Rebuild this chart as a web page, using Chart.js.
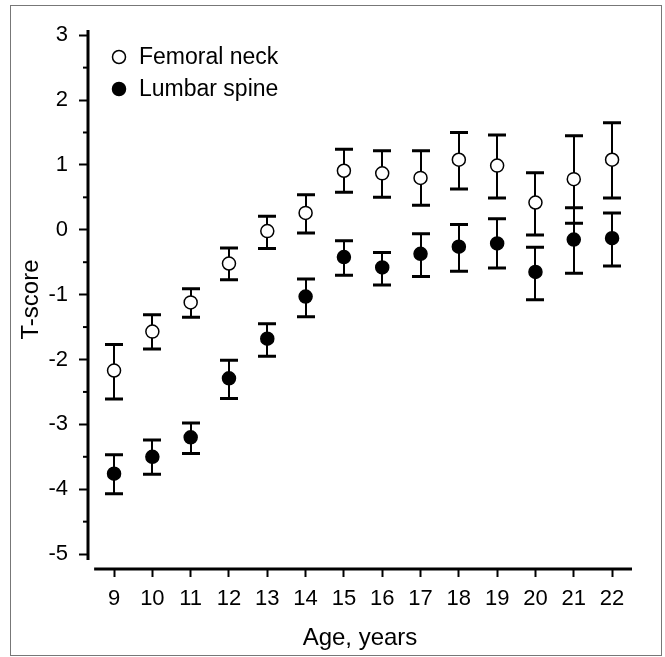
<!DOCTYPE html>
<html>
<head>
<meta charset="utf-8">
<style>
  html, body { margin: 0; padding: 0; background: #fff; }
  #wrap { position: relative; width: 665px; height: 657px; }
  #frame { position: absolute; left: 10px; top: 5px; width: 652px; height: 651px;
           border: 1px solid #777; box-sizing: border-box; pointer-events: none; }
  canvas { position: absolute; left: 0; top: 0; }
</style>
<script src="https://cdn.jsdelivr.net/npm/chart.js@4/dist/chart.umd.min.js"></script>
</head>
<body>
<div id="wrap">
  <canvas id="tscore" width="665" height="657"></canvas>
  <div id="frame"></div>
</div>
<script>
// ages and T-scores (mean, lower and upper ends of the error bar)
const ages = [9, 10, 11, 12, 13, 14, 15, 16, 17, 18, 19, 20, 21, 22];

const femoralNeck     = [-2.17, -1.57, -1.12, -0.52, -0.02, 0.26, 0.91, 0.87, 0.80, 1.08, 0.99, 0.42, 0.78, 1.08];
const femoralNeckLow  = [-2.61, -1.84, -1.35, -0.77, -0.29, -0.05, 0.58, 0.50, 0.38, 0.63, 0.49, -0.08, 0.10, 0.49];
const femoralNeckHigh = [-1.77, -1.31, -0.91, -0.28, 0.21, 0.54, 1.24, 1.22, 1.22, 1.50, 1.46, 0.88, 1.45, 1.65];

const lumbarSpine     = [-3.76, -3.50, -3.20, -2.29, -1.68, -1.03, -0.42, -0.58, -0.37, -0.26, -0.21, -0.65, -0.15, -0.13];
const lumbarSpineLow  = [-4.07, -3.77, -3.45, -2.60, -1.95, -1.34, -0.70, -0.85, -0.72, -0.64, -0.59, -1.08, -0.67, -0.56];
const lumbarSpineHigh = [-3.47, -3.24, -2.98, -2.01, -1.45, -0.76, -0.17, -0.35, -0.06, 0.08, 0.17, -0.27, 0.34, 0.26];

const yTicks = [-5, -4, -3, -2, -1, 0, 1, 2, 3];
const yMinorTicks = [-4.5, -3.5, -2.5, -1.5, -0.5, 0.5, 1.5, 2.5];

const seriesNames = ['Femoral neck', 'Lumbar spine'];

const FONT = 'Liberation Sans, Arial, Helvetica, sans-serif';

function points(values) {
  return ages.map((a, i) => ({ x: a, y: values[i] }));
}

// error bars behind the markers, axis lines and minor ticks
const errorBars = {
  id: 'errorBars',
  beforeDatasetsDraw(chart) {
    const { ctx, scales: { x, y } } = chart;
    const sets = [[femoralNeckLow, femoralNeckHigh], [lumbarSpineLow, lumbarSpineHigh]];
    ctx.save();
    ctx.strokeStyle = '#000';
    sets.forEach(([lo, hi]) => {
      ages.forEach((a, i) => {
        const px = Math.round(x.getPixelForValue(a));
        const pLo = y.getPixelForValue(lo[i]);
        const pHi = y.getPixelForValue(hi[i]);
        ctx.lineWidth = 2;
        ctx.beginPath();
        ctx.moveTo(px, pLo);
        ctx.lineTo(px, pHi);
        ctx.stroke();
        ctx.lineWidth = 3;
        ctx.beginPath();
        ctx.moveTo(px - 9, pLo);
        ctx.lineTo(px + 9, pLo);
        ctx.moveTo(px - 9, pHi);
        ctx.lineTo(px + 9, pHi);
        ctx.stroke();
      });
    });
    ctx.restore();
  },
  afterDraw(chart) {
    const { ctx, chartArea, scales: { x, y } } = chart;
    ctx.save();
    ctx.strokeStyle = '#000';
    // y axis line
    ctx.lineWidth = 3;
    ctx.beginPath();
    ctx.moveTo(chartArea.left, chartArea.top);
    ctx.lineTo(chartArea.left, y.getPixelForValue(-5.09));
    ctx.stroke();
    // minor y ticks
    ctx.lineWidth = 2;
    yMinorTicks.forEach(v => {
      const py = y.getPixelForValue(v);
      ctx.beginPath();
      ctx.moveTo(chartArea.left - 5, py);
      ctx.lineTo(chartArea.left + 1, py);
      ctx.stroke();
    });
    // x axis line
    ctx.lineWidth = 3;
    ctx.beginPath();
    ctx.moveTo(x.getPixelForValue(8.48), chartArea.bottom);
    ctx.lineTo(chartArea.right, chartArea.bottom);
    ctx.stroke();

    // legend
    const ds = chart.data.datasets;
    ctx.font = '23px ' + FONT;
    ctx.textBaseline = 'middle';
    ctx.textAlign = 'left';
    ds.forEach((d, i) => {
      const cx = chartArea.left + 31;
      const cy = chartArea.top + 27 + i * 32;
      ctx.beginPath();
      ctx.arc(cx, cy, 6.5, 0, Math.PI * 2);
      ctx.fillStyle = d.backgroundColor;
      ctx.fill();
      ctx.lineWidth = d.borderWidth;
      ctx.strokeStyle = d.borderColor;
      ctx.stroke();
      ctx.fillStyle = '#000';
      ctx.fillText(d.label, chartArea.left + 51, cy + 1);
    });
    ctx.restore();
  }
};

new Chart(document.getElementById('tscore'), {
  type: 'scatter',
  data: {
    datasets: [
      {
        label: seriesNames[0],
        data: points(femoralNeck),
        backgroundColor: '#fff',
        borderColor: '#000',
        borderWidth: 1.5,
        pointRadius: 6.5
      },
      {
        label: seriesNames[1],
        data: points(lumbarSpine),
        backgroundColor: '#000',
        borderColor: '#000',
        borderWidth: 1.5,
        pointRadius: 6.5
      }
    ]
  },
  options: {
    responsive: false,
    animation: false,
    layout: { padding: { top: 30, right: 33, bottom: 0, left: 0 } },
    plugins: {
      legend: { display: false },
      tooltip: { enabled: false }
    },
    scales: {
      x: {
        type: 'linear',
        min: 8.32,
        max: 22.52,
        afterBuildTicks: scale => { scale.ticks = ages.map(v => ({ value: v })); },
        afterFit: scale => { scale.height = 88; },
        border: { display: false },
        grid: { drawOnChartArea: false, tickLength: 8, tickWidth: 2, tickColor: '#000' },
        ticks: { color: '#000', font: { family: FONT, size: 22 }, padding: 9, maxRotation: 0, autoSkip: false },
        title: { display: true, text: 'Age, years', color: '#000', font: { family: FONT, size: 24 }, padding: { top: 0, bottom: 4 } }
      },
      y: {
        min: -5.23,
        max: 3.08,
        afterBuildTicks: scale => { scale.ticks = yTicks.map(v => ({ value: v })); },
        afterFit: scale => { scale.width = 88; },
        border: { display: false },
        grid: { drawOnChartArea: false, tickLength: 9, tickWidth: 2, tickColor: '#000' },
        ticks: { color: '#000', font: { family: FONT, size: 22 }, padding: 11 },
        title: { display: true, text: 'T-score', color: '#000', font: { family: FONT, size: 24 }, padding: { top: 17, bottom: 0 } }
      }
    }
  },
  plugins: [errorBars]
});
</script>
</body>
</html>
